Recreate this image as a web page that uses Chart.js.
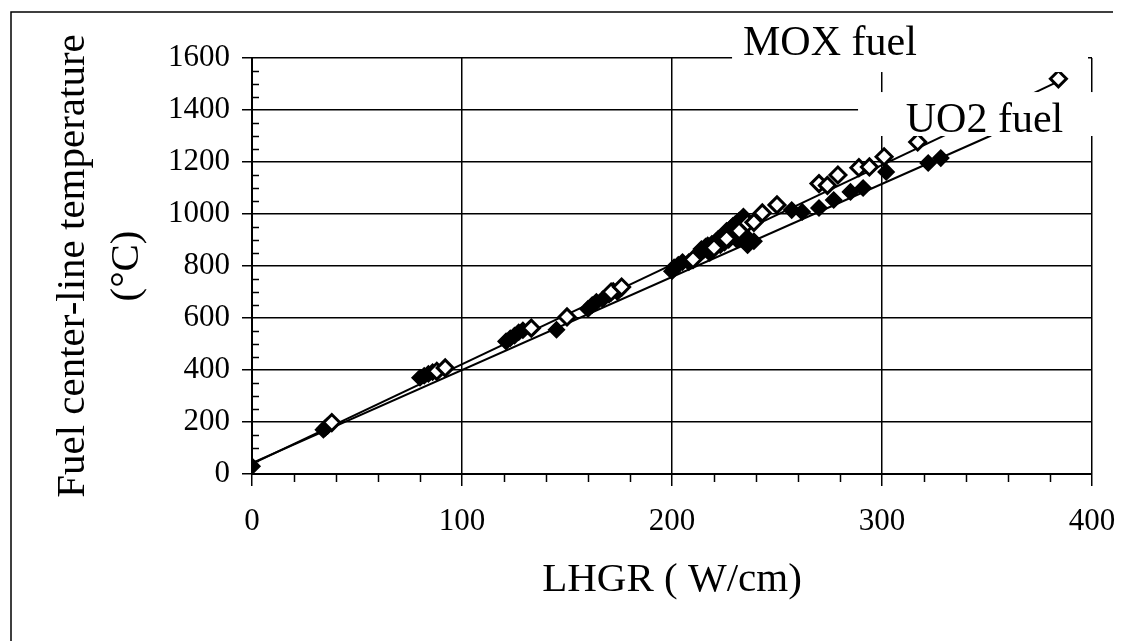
<!DOCTYPE html>
<html>
<head>
<meta charset="utf-8">
<script src="https://cdn.jsdelivr.net/npm/chart.js@4.4.1/dist/chart.umd.min.js"></script>
<style>
  html, body { margin: 0; padding: 0; background: #ffffff; }
  #wrap { position: relative; width: 1123px; height: 641px; }
  canvas { display: block; }
</style>
</head>
<body>
<div id="wrap"><canvas id="chart" width="1123" height="641"></canvas></div>
<script>
// Axis ranges and tick steps (W/cm, °C)
const xTickValues = [0, 100, 200, 300, 400];
const yTickValues = [0, 200, 400, 600, 800, 1000, 1200, 1400, 1600];

// UO2 fuel: measured centre-line temperature vs linear heat generation rate
const uo2Lhgr = [0, 34, 35, 36, 80, 82, 84, 86, 121, 123, 125, 127, 129, 145,
  160, 162, 164, 167, 170, 172, 174, 200, 201, 203, 205, 208, 211, 212, 213, 214,
  215, 216, 217, 218, 219, 219, 220, 221, 221, 222, 223, 223, 224, 225, 225, 226,
  227, 227, 228, 229, 229, 230, 231, 231, 232, 233, 233, 234, 235, 236, 237, 239,
  257, 262, 270, 277, 285, 291, 302, 322, 328];
const uo2Temp = [30, 170, 178, 185, 370, 378, 385, 392, 510, 522, 532, 545, 553, 555,
  635, 650, 662, 672, 690, 705, 700, 780, 795, 805, 815, 815, 830, 840, 845, 865,
  860, 875, 880, 850, 885, 860, 870, 895, 875, 905, 880, 900, 915, 890, 920, 935,
  900, 935, 945, 920, 955, 960, 900, 945, 975, 930, 965, 990, 915, 880, 900, 895,
  1015, 1008, 1023, 1054, 1085, 1100, 1162, 1196, 1215];

// MOX fuel: measured centre-line temperature vs linear heat generation rate
const moxLhgr = [38, 88, 92, 133, 150, 171, 176, 210, 220, 226, 232, 236, 239, 243,
  250, 270, 274, 279, 289, 294, 301, 317, 384];
const moxTemp = [198, 395, 408, 561, 604, 700, 719, 825, 870, 905, 935, 965, 968, 1004,
  1035, 1117, 1110, 1150, 1178, 1181, 1220, 1277, 1520];

// Linear fits through each data set (end points)
const uo2FitLhgr = [0, 352];
const uo2FitTemp = [42, 1302];
const moxFitLhgr = [0, 384];
const moxFitTemp = [39, 1510];

// Series names shown as boxed labels in the plot
const seriesNames = ['MOX fuel', 'UO2 fuel'];

const toPoints = (xs, ys) => xs.map((x, i) => ({ x: x, y: ys[i] }));

const SERIF = "'Liberation Serif', 'Times New Roman', serif";

// Boxed series labels, placed in data coordinates
const labelBoxes = [
  { text: seriesNames[0], box: [228.6, 1746, 398.1, 1546], at: [275.2, 1610] },
  { text: seriesNames[1], box: [288.6, 1469, 410, 1300], at: [348.8, 1315] }
];

const extras = {
  id: 'extras',
  beforeDraw(chart) {
    const ctx = chart.ctx;
    ctx.save();
    ctx.fillStyle = '#ffffff';
    ctx.fillRect(0, 0, chart.width, chart.height);
    // outer frame
    ctx.strokeStyle = '#000';
    ctx.lineWidth = 1.5;
    ctx.beginPath();
    ctx.moveTo(11, chart.height);
    ctx.lineTo(11, 12);
    ctx.lineTo(1113, 12);
    ctx.stroke();
    ctx.restore();
  },
  afterDatasetsDraw(chart) {
    const ctx = chart.ctx;
    const xs = chart.scales.x, ys = chart.scales.y;
    const area = chart.chartArea;
    ctx.save();
    ctx.strokeStyle = '#000';
    ctx.lineWidth = 1.5;
    // minor ticks on the y axis (inside), every 50
    ctx.beginPath();
    for (let v = 50; v < 1600; v += 50) {
      if (v % 200 === 0) continue;
      const py = Math.round(ys.getPixelForValue(v)) + 0.5;
      ctx.moveTo(area.left, py);
      ctx.lineTo(area.left + 7, py);
    }
    // minor ticks on the x axis (outside), every 20
    for (let v = 20; v < 400; v += 20) {
      if (v % 100 === 0) continue;
      const px = Math.round(xs.getPixelForValue(v)) + 0.5;
      ctx.moveTo(px, area.bottom);
      ctx.lineTo(px, area.bottom + 8);
    }
    ctx.stroke();

    // boxed labels
    for (const lb of labelBoxes) {
      const x1 = xs.getPixelForValue(lb.box[0]);
      const y1 = ys.getPixelForValue(lb.box[1]);
      const x2 = xs.getPixelForValue(lb.box[2]);
      const y2 = ys.getPixelForValue(lb.box[3]);
      ctx.fillStyle = '#ffffff';
      ctx.fillRect(x1, y1, x2 - x1, y2 - y1);
    }
    ctx.fillStyle = '#000';
    ctx.font = '42px ' + SERIF;
    ctx.textAlign = 'center';
    ctx.textBaseline = 'alphabetic';
    for (const lb of labelBoxes) {
      ctx.fillText(lb.text, xs.getPixelForValue(lb.at[0]), ys.getPixelForValue(lb.at[1]));
    }
    ctx.restore();
  }
};

new Chart(document.getElementById('chart'), {
  type: 'scatter',
  data: {
    datasets: [
      {
        label: seriesNames[0],
        data: toPoints(moxLhgr, moxTemp),
        pointStyle: 'rectRot',
        pointRadius: 8,
        backgroundColor: '#ffffff',
        borderColor: '#000000',
        borderWidth: 3,
        order: 1
      },
      {
        label: seriesNames[1],
        data: toPoints(uo2Lhgr, uo2Temp),
        pointStyle: 'rectRot',
        pointRadius: 8,
        backgroundColor: '#000000',
        borderColor: '#000000',
        borderWidth: 1.5,
        order: 2
      },
      {
        label: 'MOX fit',
        type: 'line',
        data: toPoints(moxFitLhgr, moxFitTemp),
        borderColor: '#000000',
        borderWidth: 2,
        pointRadius: 0,
        fill: false,
        order: 3
      },
      {
        label: 'UO2 fit',
        type: 'line',
        data: toPoints(uo2FitLhgr, uo2FitTemp),
        borderColor: '#000000',
        borderWidth: 2,
        pointRadius: 0,
        fill: false,
        order: 4
      }
    ]
  },
  options: {
    responsive: false,
    animation: false,
    devicePixelRatio: 1,
    layout: { padding: { top: 58, right: 31, left: 0, bottom: 0 } },
    plugins: {
      legend: { display: false },
      tooltip: { enabled: false }
    },
    scales: {
      x: {
        type: 'linear',
        min: 0,
        max: 400,
        afterBuildTicks(scale) { scale.ticks = xTickValues.map(v => ({ value: v })); },
        afterFit(scale) { scale.height = 167; scale.paddingLeft = 0; scale.paddingRight = 0; },
        ticks: {
          color: '#000',
          font: { family: SERIF, size: 31 },
          padding: 17,
          callback: v => String(v)
        },
        grid: { color: '#000', lineWidth: 1.5, drawTicks: true, tickLength: 12, tickColor: '#000' },
        border: { display: true, color: '#000', width: 2 },
        title: {
          display: true,
          text: 'LHGR ( W/cm)',
          color: '#000',
          font: { family: SERIF, size: 41 },
          padding: { top: 0, bottom: 36 }
        }
      },
      y: {
        type: 'linear',
        min: 0,
        max: 1600,
        afterBuildTicks(scale) { scale.ticks = yTickValues.map(v => ({ value: v })); },
        afterFit(scale) { scale.width = 252; },
        ticks: {
          color: '#000',
          font: { family: SERIF, size: 31 },
          padding: 12,
          callback: v => String(v)
        },
        grid: { color: '#000', lineWidth: 1.5, drawTicks: true, tickLength: 10, tickColor: '#000' },
        border: { display: true, color: '#000', width: 2 },
        title: {
          display: true,
          text: ['Fuel center-line temperature', '(°C)'],
          color: '#000',
          font: { family: SERIF, size: 41, lineHeight: 1.32 },
          padding: { top: 46, bottom: 0 }
        }
      }
    }
  },
  plugins: [extras]
});
</script>
</body>
</html>
